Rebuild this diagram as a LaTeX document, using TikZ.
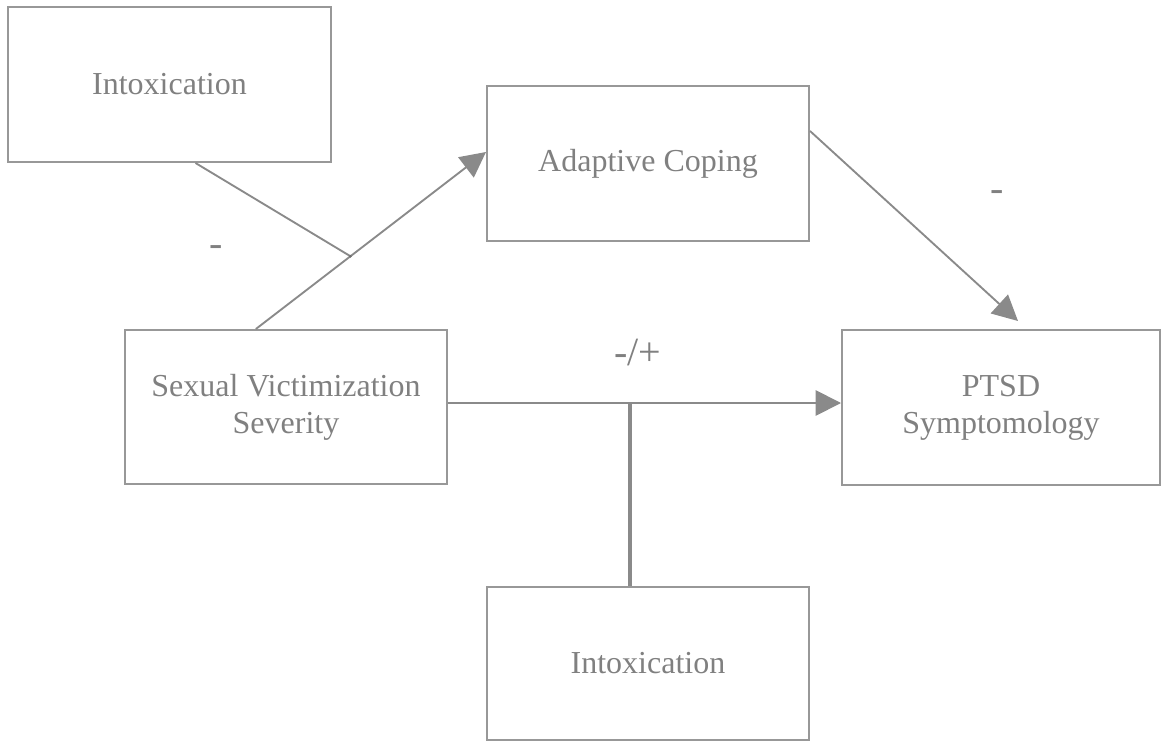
\documentclass[tikz,border=0pt]{standalone}
\usepackage{fontspec}
\setmainfont{Liberation Serif}
\usetikzlibrary{arrows.meta,calc}
\definecolor{boxgray}{RGB}{152,152,152}
\definecolor{linegray}{RGB}{138,138,138}
\definecolor{textgray}{RGB}{128,128,128}
\tikzset{
  var/.style={draw=boxgray, line width=1.5pt, rectangle, align=center,
    text=textgray, font=\fontsize{24}{27.75}\selectfont, inner sep=0pt},
  path/.style={draw=linegray, line width=1.4pt},
  arr/.style={path, -{Triangle[length=19pt,width=19pt]}},
  modline/.style={draw=linegray, line width=3pt},
  sign/.style={text=textgray, font=\fontsize{30}{34}\selectfont, inner sep=0pt}
}
\begin{document}
\begin{tikzpicture}[x=0.75pt, y=-0.75pt]
\useasboundingbox (0,0) rectangle (1163,742);

% variables
\node[var, minimum width=323*0.75pt, minimum height=155*0.75pt] (it) at (169.5,84.5) {Intoxication};
\node[var, minimum width=322*0.75pt, minimum height=155*0.75pt] (ac) at (648,163.5) {Adaptive Coping};
\node[var, minimum width=322*0.75pt, minimum height=154*0.75pt] (sv) at (286,407) {Sexual Victimization\\Severity};
\node[var, minimum width=318*0.75pt, minimum height=155*0.75pt] (pt) at (1001,407.5) {PTSD\\Symptomology};
\node[var, minimum width=322*0.75pt, minimum height=153*0.75pt] (ib) at (648,663.5) {Intoxication};

% severity -> adaptive coping, moderated by intoxication
\coordinate (svtop) at ($(sv.north west)!0.407!(sv.north east)$);
\coordinate (acin) at (ac.west |- 0,152);
\draw[arr] (svtop) -- (acin);
\coordinate (j) at ($(svtop)!0.411!(acin)$);
\draw[path] ($(it.south west)!0.58!(it.south east)$) -- (j);
\fill[linegray!80!black] (j) circle (1.5);
\node[sign] (m1) at (216,251) {-};

% adaptive coping -> PTSD
\draw[arr] (ac.east |- 0,131) -- ($(pt.north)+(17,-8)$);
\node[sign] (m2) at (997,196) {-};

% severity -> PTSD, moderated by intoxication
\coordinate (svout) at (sv.east |- 0,403);
\coordinate (ptin) at (pt.west |- 0,403);
\draw[arr] (svout) -- (ptin);
\coordinate (k) at ($(svout)!0.463!(ptin)$);
\draw[modline] (k) -- (k |- ib.north);
\node[sign] (m3) at (638,353) {-/+};
\end{tikzpicture}
\end{document}
